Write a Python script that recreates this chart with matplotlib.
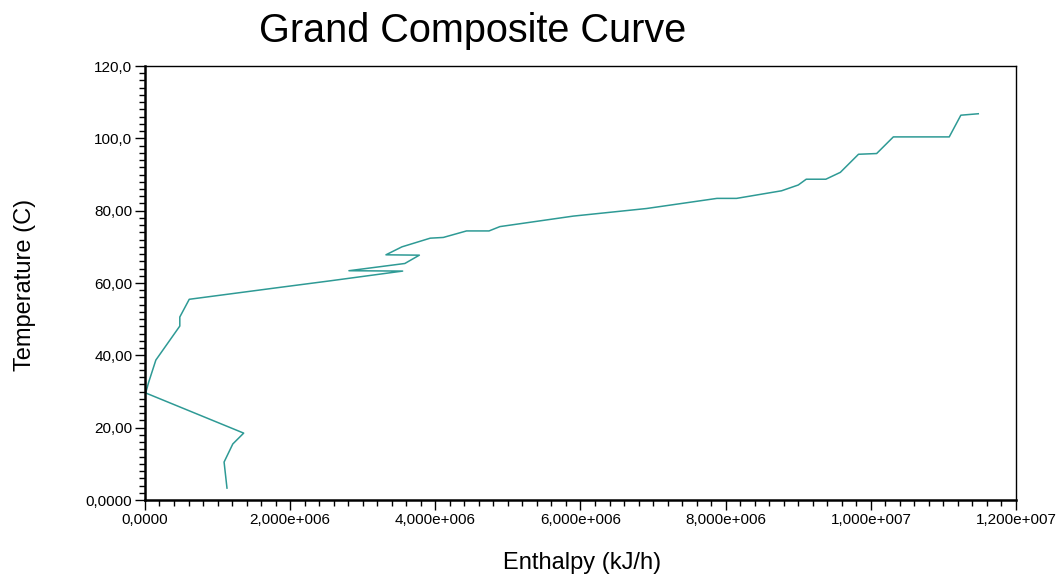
import matplotlib as mpl
import matplotlib.pyplot as plt
import matplotlib.ticker as ticker

# ── data ──────────────────────────────────────────────────────────────────────
enthalpy = [1.13e6, 1.09e6, 1.21e6, 1.36e6, 0.01e6, 0.05e6, 0.15e6, 0.48e6,
            0.48e6, 0.61e6, 1.86e6, 2.55e6, 3.55e6, 2.81e6, 3.58e6, 3.78e6,
            3.32e6, 3.54e6, 3.93e6, 4.11e6, 4.43e6, 4.74e6, 4.89e6, 5.90e6,
            6.91e6, 7.88e6, 8.15e6, 8.77e6, 9.00e6, 9.11e6, 9.38e6, 9.58e6,
            9.83e6, 10.08e6, 10.31e6, 11.08e6, 11.24e6, 11.48e6]
temperature = [3.3, 10.5, 15.5, 18.5, 29.6, 32.5, 38.7, 48.1,
               50.6, 55.5, 58.8, 60.6, 63.3, 63.4, 65.4, 67.7,
               67.8, 70.0, 72.4, 72.6, 74.4, 74.4, 75.6, 78.5,
               80.6, 83.4, 83.4, 85.5, 87.1, 88.7, 88.7, 90.6,
               95.6, 95.8, 100.4, 100.4, 106.4, 106.8]

x_ticks = [0, 2e6, 4e6, 6e6, 8e6, 1e7, 1.2e7]
x_tick_labels = ["0,0000", "2,000e+006", "4,000e+006", "6,000e+006",
                 "8,000e+006", "1,000e+007", "1,200e+007"]
y_ticks = [0, 20, 40, 60, 80, 100, 120]
y_tick_labels = ["0,0000", "20,00", "40,00", "60,00", "80,00", "100,0", "120,0"]

LINE_CLR = "#2e9a95"

mpl.rcParams.update({
    "font.family": ["Liberation Sans", "DejaVu Sans"],
})

fig = plt.figure(figsize=(10.62, 5.77), dpi=100)
ax = fig.add_axes([0.1365, 0.1334, 0.8202, 0.7522])

ax.plot(enthalpy, temperature, color=LINE_CLR, linewidth=1.1)

ax.set_xlim(0, 1.2e7)
ax.set_ylim(0, 120)

ax.set_xticks(x_ticks)
ax.set_xticklabels(x_tick_labels)
ax.set_yticks(y_ticks)
ax.set_yticklabels(y_tick_labels)
ax.xaxis.set_minor_locator(ticker.MultipleLocator(2e5))
ax.yaxis.set_minor_locator(ticker.MultipleLocator(2))

ax.tick_params(which="major", direction="out", length=7, width=1.0,
               labelsize=11, colors="black", pad=2)
ax.tick_params(which="minor", direction="out", length=4, width=1.0)
ax.tick_params(top=False, right=False, which="both")

for side in ("left", "bottom"):
    ax.spines[side].set_linewidth(1.8)
for side in ("top", "right"):
    ax.spines[side].set_linewidth(1.0)

fig.text(0.445, 0.947, "Grand Composite Curve", fontsize=28.5,
         ha="center", va="center")
fig.text(0.548, 0.025, "Enthalpy (kJ/h)", fontsize=17,
         ha="center", va="center")
fig.text(0.024, 0.507, "Temperature (C)", fontsize=17, rotation=90,
         ha="center", va="center")

fig.savefig("out.png", dpi=100)
